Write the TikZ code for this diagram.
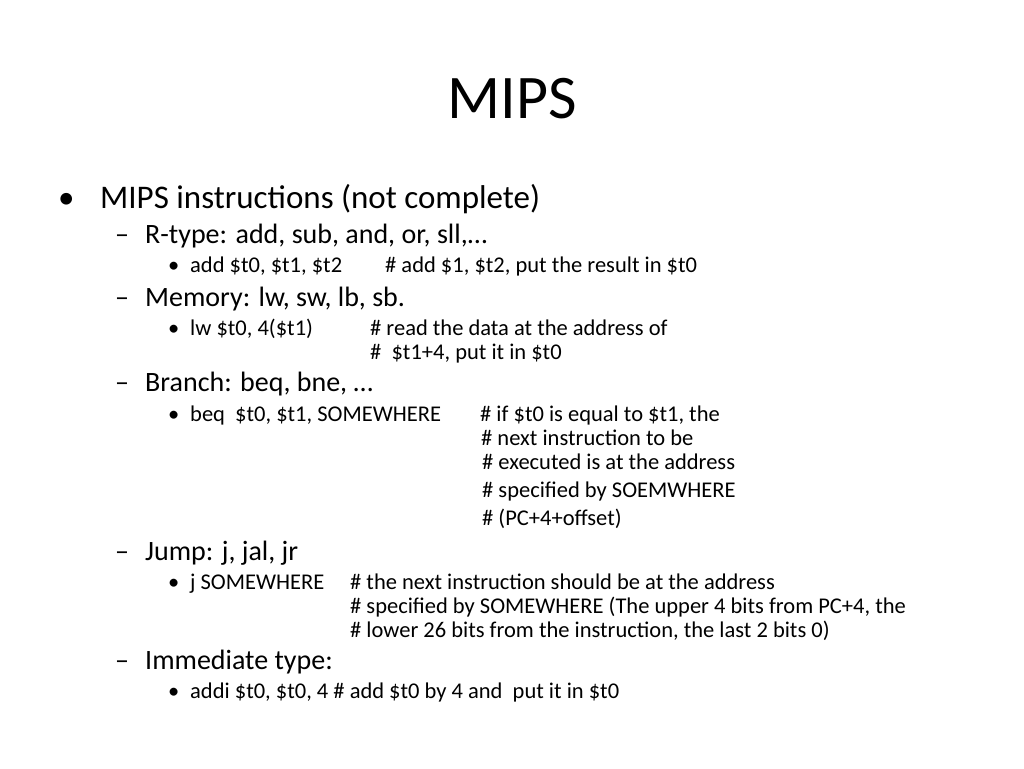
\documentclass[tikz,border=0pt]{standalone}
\usepackage{fontspec}
\setmainfont{Carlito}
\begin{document}
\begin{tikzpicture}[x=1pt,y=-1pt,
  t/.style={anchor=base west,inner sep=0pt,text=black},
  lA/.style={t,font=\fontsize{33}{38}\selectfont},
  lB/.style={t,font=\fontsize{28}{33}\selectfont},
  lC/.style={t,font=\fontsize{22.5}{26}\selectfont}]
\useasboundingbox[fill=white] (0,0) rectangle (1024,768);
\node[t,anchor=base,font=\fontsize{62}{70}\selectfont] (title) at (512,118) {MIPS};
\node[lA] (b1) at (58,208) {•};
\node[lA] (l1) at (100,208) {MIPS instructions (not complete)};
\node[lB] (d1) at (115,243) {–};
\node[lB] (r) at (145,243) {R-type: add, sub, and, or, sll,…};
\node[lC] (b2) at (168,272) {•};
\node[lC] (add) at (190,272) {add \$t0, \$t1, \$t2};
\node[lC] (addc) at (385,272) {\# add \$1, \$t2, put the result in \$t0};
\node[lB] (d2) at (115,306) {–};
\node[lB] (m) at (145,306) {Memory: lw, sw, lb, sb.};
\node[lC] (b3) at (168,335) {•};
\node[lC] (lw) at (190,335) {lw \$t0, 4(\$t1)};
\node[lC] (lwc1) at (370,335) {\# read the data at the address of};
\node[lC] (lwc2) at (370,359) {\#\ \ \$t1+4, put it in \$t0};
\node[lB] (d3) at (115,391) {–};
\node[lB] (br) at (145,391) {Branch: beq, bne, …};
\node[lC] (b4) at (168,421) {•};
\node[lC] (beq) at (190,421) {beq\ \ \$t0, \$t1, SOMEWHERE};
\node[lC] (bc1) at (480,421) {\# if \$t0 is equal to \$t1, the};
\node[lC] (bc2) at (481,445) {\# next instruction to be};
\node[lC] (bc3) at (482,469) {\# executed is at the address};
\node[lC] (bc4) at (482,497) {\# specified by SOEMWHERE};
\node[lC] (bc5) at (482,525) {\# (PC+4+offset)};
\node[lB] (d4) at (115,560) {–};
\node[lB] (jp) at (145,560) {Jump: j, jal, jr};
\node[lC] (b5) at (168,589) {•};
\node[lC] (j) at (190,589) {j SOMEWHERE};
\node[lC] (jc1) at (350,589) {\# the next instruction should be at the address};
\node[lC] (jc2) at (350,613) {\# specified by SOMEWHERE (The upper 4 bits from PC+4, the};
\node[lC] (jc3) at (350,637) {\# lower 26 bits from the instruction, the last 2 bits 0)};
\node[lB] (d5) at (115,669) {–};
\node[lB] (im) at (145,669) {Immediate type:};
\node[lC] (b6) at (168,698) {•};
\node[lC] (addi) at (190,698) {addi \$t0, \$t0, 4 \# add \$t0 by 4 and\ \ put it in \$t0};
\end{tikzpicture}
\end{document}
